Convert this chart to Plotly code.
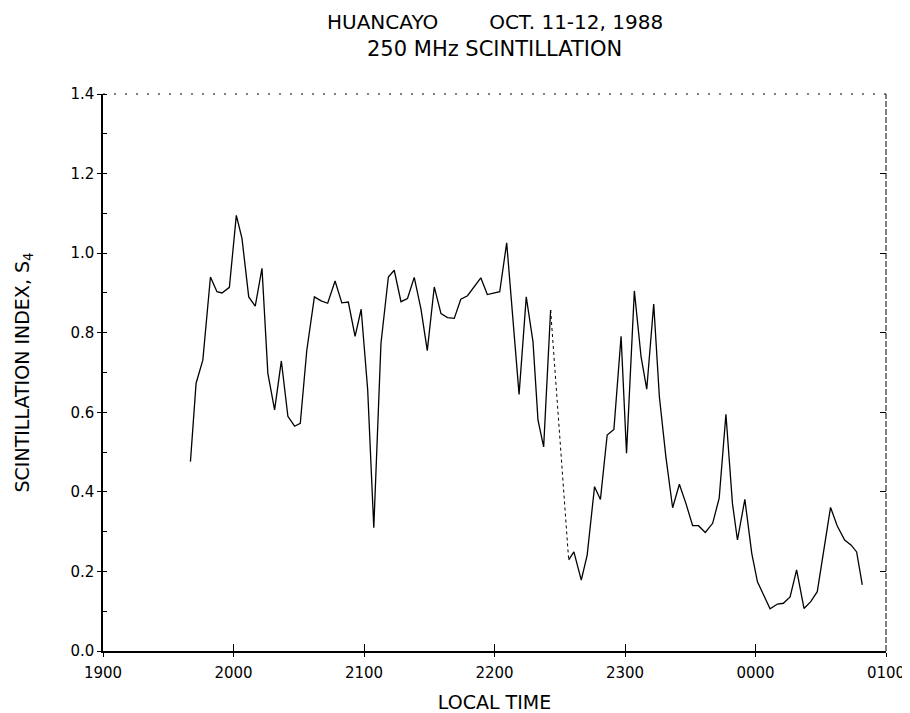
import plotly.graph_objects as go

# Huancayo, Oct 11-12 1988 -- 250 MHz scintillation index S4
# sample times in minutes after 1900 LT
minutes = [40.2, 42.8, 45.9, 49.4, 52.4, 54.7, 58.1, 61.3, 63.9, 67.0,
           70.0, 73.1, 75.8, 78.9, 82.0, 85.0, 88.1, 90.7, 93.7, 97.2,
           100.3, 103.3, 106.7, 109.8, 112.8, 115.9, 118.7, 121.7, 124.5, 127.8,
           131.2, 133.9, 137.0, 140.0, 143.1, 146.2, 149.1, 152.3, 155.4, 158.4,
           161.5, 164.5, 167.6, 170.6, 173.7, 176.7, 179.8, 182.4, 185.6, 188.2,
           191.3, 194.6, 197.7, 200.0, 202.6, 205.8,
           214.1, 216.5, 219.9, 222.6, 226.0, 228.7, 231.8, 234.9, 238.2, 240.7,
           244.3, 247.4, 250.0, 253.2, 255.8, 258.8, 261.9, 265.0, 268.0, 271.1,
           273.8, 276.9, 280.3, 283.3, 286.4, 289.4, 291.7, 295.1, 298.3, 300.9,
           306.7, 310.1, 312.8, 315.9, 318.9, 322.3, 325.4, 328.4, 334.5, 337.6,
           341.0, 344.0, 346.5, 349.1]
s4 = [0.476, 0.673, 0.731, 0.940, 0.903, 0.900, 0.914, 1.095, 1.037, 0.890,
      0.867, 0.962, 0.698, 0.606, 0.729, 0.590, 0.565, 0.572, 0.756, 0.890,
      0.880, 0.874, 0.930, 0.875, 0.877, 0.791, 0.859, 0.656, 0.310, 0.773,
      0.940, 0.957, 0.878, 0.886, 0.939, 0.859, 0.755, 0.915, 0.848, 0.838,
      0.836, 0.884, 0.893, 0.915, 0.938, 0.896, 0.900, 0.903, 1.026, 0.857,
      0.645, 0.890, 0.777, 0.580, 0.513, 0.857,
      0.229, 0.249, 0.178, 0.241, 0.413, 0.381, 0.543, 0.557, 0.791, 0.497,
      0.905, 0.739, 0.658, 0.872, 0.639, 0.488, 0.360, 0.419, 0.371, 0.315,
      0.315, 0.298, 0.321, 0.384, 0.595, 0.371, 0.279, 0.381, 0.245, 0.174,
      0.106, 0.118, 0.120, 0.136, 0.204, 0.107, 0.124, 0.149, 0.361, 0.314,
      0.279, 0.266, 0.249, 0.166]
gap_at = 56  # segment between sample 56 and 57 is drawn dotted (data gap)

hour_ticks = [0, 1, 2, 3, 4, 5, 6]
hour_labels = ["1900", "2000", "2100", "2200", "2300", "0000", "0100"]
s4_ticks = [0.0, 0.2, 0.4, 0.6, 0.8, 1.0, 1.2, 1.4]
s4_labels = ["0.0", "0.2", "0.4", "0.6", "0.8", "1.0", "1.2", "1.4"]

hours = [m / 60 for m in minutes]
LINE = dict(color="black", width=1.3)
TICKFONT = dict(family="DejaVu Sans", size=15, color="black")
LABELFONT = dict(family="DejaVu Sans", size=19, color="black")

fig = go.Figure()
fig.add_trace(go.Scatter(x=hours[:gap_at], y=s4[:gap_at], mode="lines", line=LINE))
fig.add_trace(go.Scatter(x=hours[gap_at - 1:gap_at + 1], y=s4[gap_at - 1:gap_at + 1],
                         mode="lines", line=dict(color="black", width=1, dash="dot")))
fig.add_trace(go.Scatter(x=hours[gap_at:], y=s4[gap_at:], mode="lines", line=LINE))
# empty trace so the overlay axes (inner/right ticks) get drawn
fig.add_trace(go.Scatter(x=[], y=[], xaxis="x2", yaxis="y2"))

# the page body has an 8px margin, so the figure is shifted; margins compensate
fig.update_layout(
    template="none",
    width=902, height=705,
    margin=dict(l=95, r=24, t=86, b=62),
    paper_bgcolor="white", plot_bgcolor="white",
    showlegend=False,
    xaxis=dict(range=[0, 6], tickvals=hour_ticks, ticktext=hour_labels,
               ticks="outside", ticklen=4, tickcolor="black", tickwidth=1,
               ticklabelstandoff=3,
               showline=True, linecolor="black", linewidth=1.5, automargin=False,
               showgrid=False, zeroline=False, tickfont=TICKFONT,
               title=dict(text="LOCAL TIME", standoff=20, font=LABELFONT)),
    yaxis=dict(range=[0, 1.4], tickvals=s4_ticks, ticktext=s4_labels,
               ticks="outside", ticklen=4, tickcolor="black", tickwidth=1,
               minor=dict(ticks="inside", dtick=0.1, ticklen=4, tickcolor="black"),
               showline=True, linecolor="black", linewidth=1.5, automargin=False,
               showgrid=False, zeroline=False, tickfont=TICKFONT,
               title=dict(text="SCINTILLATION INDEX, S<sub>4</sub>", standoff=36,
                          font=LABELFONT)),
    xaxis2=dict(range=[0, 6], overlaying="x", side="bottom", anchor="y2",
                tickvals=hour_ticks, ticks="inside", ticklen=7, tickcolor="black",
                showticklabels=False, showline=False, showgrid=False, zeroline=False,
                automargin=False),
    yaxis2=dict(range=[0, 1.4], overlaying="y", side="right", anchor="x2",
                tickvals=s4_ticks, ticks="inside", ticklen=6, tickcolor="black",
                showticklabels=False, showline=False, showgrid=False, zeroline=False,
                automargin=False),
    shapes=[
        dict(type="line", xref="paper", yref="paper", x0=0, x1=1, y0=1, y1=1,
             line=dict(color="black", width=1, dash="2px,9px")),
        dict(type="line", xref="paper", yref="paper", x0=1, x1=1, y0=0, y1=1,
             line=dict(color="black", width=1, dash="6px,2px")),
    ],
    annotations=[
        dict(text="HUANCAYO" + "\u00a0" * 8 + "OCT. 11-12, 1988",
             xref="paper", yref="paper", x=0.5, y=1, yanchor="middle", yshift=72,
             showarrow=False, font=dict(family="DejaVu Sans", size=20, color="black")),
        dict(text="250 MHz SCINTILLATION",
             xref="paper", yref="paper", x=0.5, y=1, yanchor="middle", yshift=45,
             showarrow=False, font=dict(family="DejaVu Sans", size=21, color="black")),
    ],
)

fig.write_html("out.html")
